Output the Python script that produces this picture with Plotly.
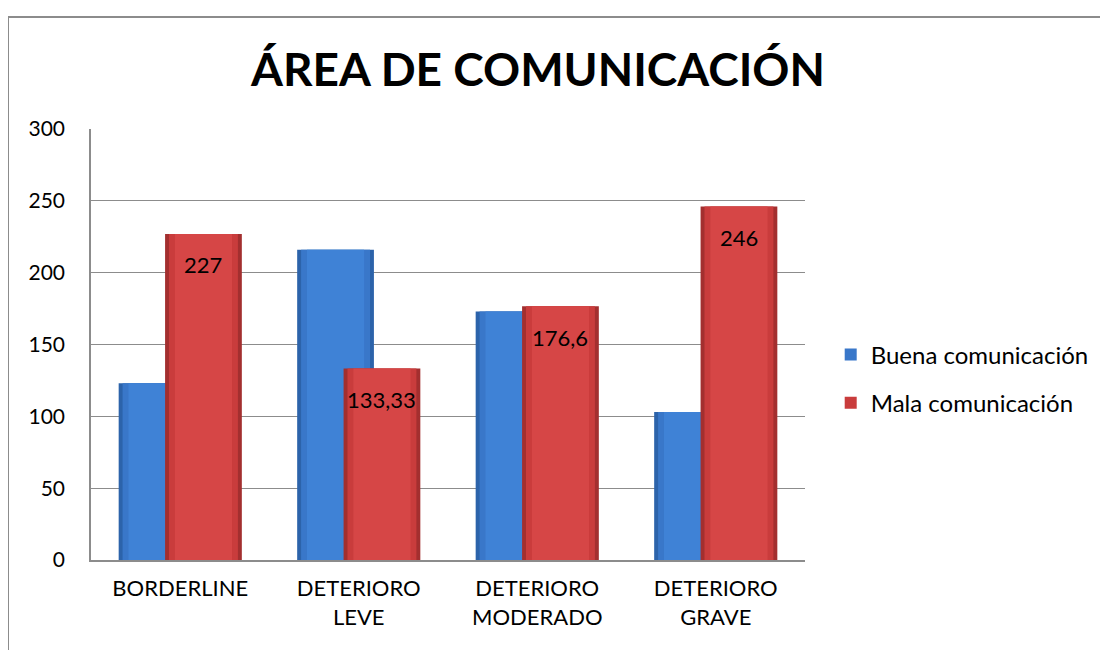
import plotly.graph_objects as go

categories = ["BORDERLINE", "DETERIORO<br>LEVE", "DETERIORO<br>MODERADO", "DETERIORO<br>GRAVE"]
buena = [123, 216, 173, 103]
mala = [227, 133.33, 176.6, 246]
mala_labels = ["227", "133,33", "176,6", "246"]
y_ticks = [0, 50, 100, 150, 200, 250, 300]

xpos = list(range(len(categories)))
FONT = "Lato"
BAR_W = 0.43
BLUE_OFF = -0.345
RED_OFF = -0.085
INSET = 0.022

# plot area in figure pixels (page has 8px body margin)
L, T, R, B = 83, 121, 311, 98
PW = 1108 - L - R
PH = 650 - T - B

fig = go.Figure()

def add_series(vals, name, off, dark, mid, light, group):
    fig.add_trace(go.Bar(
        x=xpos, y=vals, name=name, width=BAR_W, offset=off,
        marker=dict(color=dark, line=dict(width=0)),
        legendgroup=group, showlegend=False, hoverinfo="skip",
    ))
    fig.add_trace(go.Bar(
        x=xpos, y=vals, name=name, width=BAR_W - 2 * INSET, offset=off + INSET,
        marker=dict(color=mid, line=dict(width=0)),
        legendgroup=group, showlegend=True,
    ))
    fig.add_trace(go.Bar(
        x=xpos, y=vals, name=name, width=BAR_W - 5 * INSET, offset=off + 2.5 * INSET,
        marker=dict(color=light, line=dict(width=0)),
        legendgroup=group, showlegend=False, hoverinfo="skip",
    ))

add_series(buena, "Buena comunicación", BLUE_OFF, "#2C63AA", "#3977C9", "#3F82D6", "a")
add_series(mala, "Mala comunicación", RED_OFF, "#A32F2F", "#C93C3C", "#D64646", "b")

for i, (v, lab) in enumerate(zip(mala, mala_labels)):
    fig.add_annotation(x=i + RED_OFF + BAR_W / 2, y=v, text=lab, showarrow=False,
                       yanchor="middle", yshift=-31, xref="x", yref="y",
                       font=dict(family=FONT, size=22, color="black"))

fig.add_shape(type="rect", xref="paper", yref="paper",
              x0=(0 - L) / PW, x1=2.0, y0=-1.0, y1=(PH + T - 9) / PH,
              line=dict(color="#8C8C8C", width=2), fillcolor="rgba(0,0,0,0)", layer="below")

fig.update_layout(
    width=1108, height=650,
    margin=dict(l=L, r=R, t=T, b=B),
    paper_bgcolor="white", plot_bgcolor="white",
    barmode="overlay",
    title=dict(text="<b>ÁREA DE COMUNICACIÓN</b>", x=530 / 1108, xref="container", y=1 - 62 / 650,
               yanchor="middle", xanchor="center",
               font=dict(family=FONT, size=46, color="black")),
    showlegend=True,
    legend=dict(x=1.036, y=0.42, xanchor="left", yanchor="middle",
                traceorder="grouped", tracegroupgap=14,
                font=dict(family=FONT, size=24, color="black"),
                bgcolor="rgba(0,0,0,0)"),
    xaxis=dict(range=[-0.5, 3.5], tickvals=xpos, ticktext=categories,
               showgrid=False, showline=True, linecolor="#8C8C8C", linewidth=1.5,
               ticks="", tickfont=dict(family=FONT, size=22, color="black"),
               ticklabelstandoff=8, zeroline=False),
    yaxis=dict(range=[0, 300], tickvals=y_ticks, showgrid=True, gridcolor="#8C8C8C",
               gridwidth=1, showline=True, linecolor="#8C8C8C", linewidth=1.5,
               ticks="", tickfont=dict(family=FONT, size=21, color="black"),
               ticklabelstandoff=20, zeroline=False),
    font=dict(family=FONT),
)

fig.write_html("out.html")
